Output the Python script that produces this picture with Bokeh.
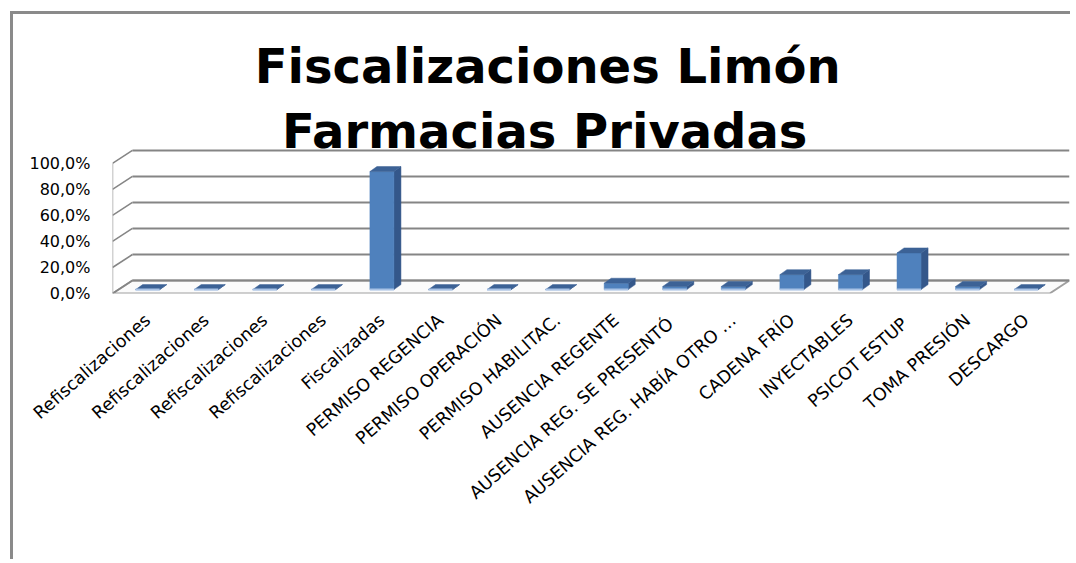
from bokeh.plotting import figure
from bokeh.models import Range1d, FixedTicker
from bokeh.core.properties import value
from bokeh.embed import file_html
from bokeh.resources import INLINE

# ---- data ----
categories = [
    "Refiscalizaciones", "Refiscalizaciones", "Refiscalizaciones", "Refiscalizaciones",
    "Fiscalizadas", "PERMISO REGENCIA", "PERMISO OPERACIÓN", "PERMISO HABILITAC.",
    "AUSENCIA REGENTE", "AUSENCIA REG.  SE PRESENTÓ", "AUSENCIA REG. HABÍA OTRO …",
    "CADENA FRÍO", "INYECTABLES", "PSICOT  ESTUP", "TOMA PRESIÓN", "DESCARGO",
]
values = [0, 0, 0, 0, 90.8, 0, 0, 0, 4.9, 2.4, 2.4, 11.5, 11.5, 28.2, 2.4, 0]
y_ticks = [0, 20, 40, 60, 80, 100]
y_tick_labels = ["0,0%", "20,0%", "40,0%", "60,0%", "80,0%", "100,0%"]
title_lines = ["Fiscalizaciones Limón", "Farmacias Privadas"]

# ---- 3D geometry (style) ----
n = len(categories)
DX, DY = 0.34, 10.0          # depth vector in data units
x0 = -0.6                    # front-left edge of floor
x1 = x0 + n                  # front-right edge
F = 0.3                      # bar front depth fraction
BW = 0.41                    # bar width
BDX, BDY = 0.12, 3.85        # bar depth

p = figure(width=1060, height=548, title=None,
           x_range=Range1d(x0, x1 + DX), y_range=Range1d(0, 214.6),
           output_backend="svg", toolbar_location=None,
           min_border_left=99, min_border_right=4,
           min_border_top=0, min_border_bottom=269)
p.styles = {"margin-left": "10px", "margin-top": "11px",
            "border-left": "3px solid #8a8a8a", "border-top": "3px solid #8a8a8a"}
p.outline_line_color = None
p.xgrid.visible = False
p.ygrid.visible = False
p.background_fill_color = "white"
p.border_fill_color = "white"

grid_col = "#858585"
# floor
p.patch([x0, x1, x1 + DX, x0 + DX], [0, 0, DY, DY], fill_color="#fbfbfb",
        line_color="#a0a0a0", line_width=2)
# back wall gridlines + left wall slants
for t in y_ticks:
    p.line([x0 + DX, x1 + DX], [t + DY, t + DY], line_color=grid_col, line_width=2)
    p.line([x0, x0 + DX], [t, t + DY], line_color=grid_col, line_width=1.5)
# left front edge
p.line([x0, x0], [0, 100], line_color="#a6a6a6", line_width=1.5)

# bars
xs = list(range(n))
fl = [x - BW / 2 for x in xs]
fr = [x + BW / 2 for x in xs]
base = F * DY
tops = [v + base for v in values]
side_x = [[r, r + BDX, r + BDX, r] for r in fr]
side_y = [[base, base + BDY, t + BDY, t] for t in tops]
top_x = [[l, r, r + BDX, l + BDX] for l, r in zip(fl, fr)]
top_y = [[t, t, t + BDY, t + BDY] for t in tops]
p.patches(side_x, side_y, fill_color="#34578a", line_color="#34578a", line_width=0.5)
p.quad(left=fl, right=fr, bottom=[base] * n, top=tops,
       fill_color="#4f81bd", line_color="#4f81bd", line_width=0.5)
p.patches(top_x, top_y, fill_color="#3c6296", line_color="#3c6296", line_width=0.5)
p.segment(x0=fl, y0=[base] * n, x1=fr, y1=[base] * n, line_color="#a9c3e6", line_width=2)

# title (inside the tall frame)
p.text(x=[6.83, 6.78], y=[175.0, 124.8], text=title_lines,
       text_align="center", text_baseline="alphabetic",
       text_font=value("DejaVu Sans"), text_font_style="bold",
       text_font_size="48px", text_color="black")

# axes
p.yaxis.ticker = FixedTicker(ticks=y_ticks)
p.yaxis.major_label_overrides = {t: s for t, s in zip(y_ticks, y_tick_labels)}
p.yaxis.axis_line_color = None
p.yaxis.major_tick_line_color = None
p.yaxis.minor_tick_line_color = None
p.yaxis.major_tick_out = 0
p.yaxis.major_label_standoff = 22
p.yaxis.major_label_text_font = "DejaVu Sans"
p.yaxis.major_label_text_font_size = "16px"
p.yaxis.major_label_text_color = "black"

p.xaxis.ticker = FixedTicker(ticks=xs)
p.xaxis.major_label_overrides = {i: c for i, c in enumerate(categories)}
p.xaxis.axis_line_color = None
p.xaxis.major_tick_line_color = None
p.xaxis.minor_tick_line_color = None
p.xaxis.major_tick_out = 0
p.xaxis.major_label_standoff = 24
p.xaxis.major_label_orientation = 0.72
p.xaxis.major_label_text_font = "DejaVu Sans"
p.xaxis.major_label_text_font_size = "17.5px"
p.xaxis.major_label_text_color = "black"

open("out.html", "w").write(file_html(p, INLINE))
